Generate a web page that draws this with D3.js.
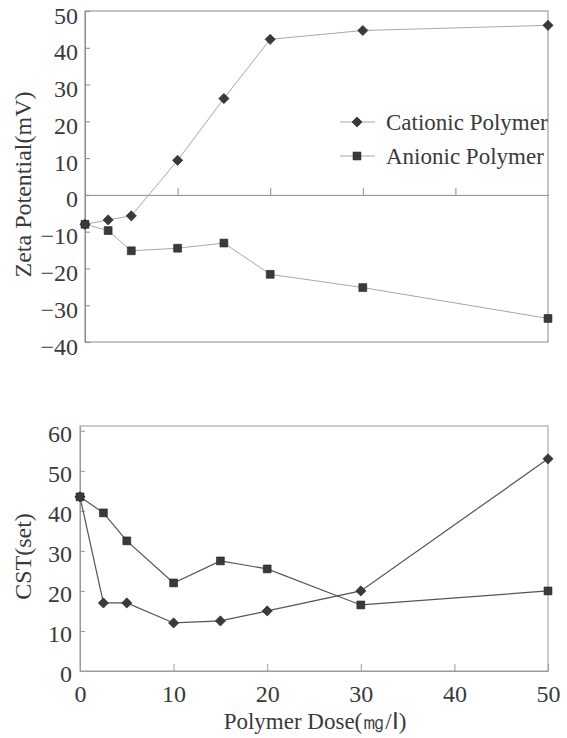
<!DOCTYPE html>
<html>
<head>
<meta charset="utf-8">
<script src="https://cdn.jsdelivr.net/npm/d3@7"></script>
<style>
  body { margin: 0; background: #fff; }
  svg { display: block; }
</style>
</head>
<body>
<div id="chart"></div>
<script>
// Polymer dose (mg/l) shared by both panels
const doses = [0, 2.5, 5, 10, 15, 20, 30, 50];

// Top panel: zeta potential (mV)
const zetaCationic = [-8, -6.8, -5.7, 9.4, 26.2, 42.3, 44.7, 46.1];
const zetaAnionic = [-8, -9.7, -15.2, -14.5, -13.1, -21.6, -25.2, -33.6];
const zetaTicks = [-40, -30, -20, -10, 0, 10, 20, 30, 40, 50];

// Bottom panel: CST (sec)
const cstCationic = [43.5, 17, 17, 12, 12.5, 15, 20, 53];
const cstAnionic = [43.5, 39.5, 32.5, 22, 27.5, 25.5, 16.5, 20];
const cstTicks = [0, 10, 20, 30, 40, 50, 60];
const doseTicks = [0, 10, 20, 30, 40, 50];

const seriesNames = ['Cationic Polymer', 'Anionic Polymer'];

const width = 567, height = 738;
const FONT = 'Liberation Serif';
const textColor = '#3a3a3a';
const markColor = '#3a3a3a';

const svg = d3.select('#chart').append('svg')
  .attr('width', width)
  .attr('height', height)
  .attr('font-family', FONT);

svg.append('rect')
  .attr('width', width)
  .attr('height', height)
  .attr('fill', '#fff');

// diamond = rotated square, square = plain square
const diamond = d3.symbol().type(d3.symbolSquare).size(52);
const square = d3.symbol().type(d3.symbolSquare).size(62);

function drawMarkers(g, x, y, values, kind) {
  g.selectAll(null)
    .data(values.map((v, i) => ({ dose: doses[i], v })))
    .enter()
    .append('path')
    .attr('d', kind === 'diamond' ? diamond : square)
    .attr('transform', d => `translate(${x(d.dose)},${y(d.v)})` + (kind === 'diamond' ? ' rotate(45)' : ''))
    .attr('fill', markColor)
    .attr('stroke', '#222')
    .attr('stroke-width', 0.6);
}

function drawLine(g, x, y, values, color, w) {
  const line = d3.line()
    .x((d, i) => x(doses[i]))
    .y(d => y(d));
  g.append('path')
    .datum(values)
    .attr('fill', 'none')
    .attr('stroke', color)
    .attr('stroke-width', w)
    .attr('d', line);
}

function styleAxis(ax, color) {
  ax.attr('font-family', FONT).attr('font-size', 24);
  ax.selectAll('path, line').attr('stroke', color).attr('stroke-width', 1);
  ax.selectAll('text').attr('fill', textColor);
}

/** ============== TOP: ZETA POTENTIAL ============== */
{
  const x = d3.scaleLinear().domain([0, 50]).range([85, 548]);
  const y = d3.scaleLinear().domain([-40, 50]).range([342, 11]);
  const g = svg.append('g');
  const frameColor = '#8a8a8a';

  // frame
  g.append('rect')
    .attr('x', x(0)).attr('y', y(50))
    .attr('width', x(50) - x(0)).attr('height', y(-40) - y(50))
    .attr('fill', 'none').attr('stroke', frameColor);

  // left axis, ticks pointing inwards
  const yAx = g.append('g')
    .attr('transform', `translate(${x(0)},0)`)
    .call(d3.axisLeft(y).tickValues(zetaTicks).tickSizeInner(-5).tickSizeOuter(0).tickPadding(7));
  yAx.selectAll('text').attr('dy', '0.5em');
  styleAxis(yAx, frameColor);

  // zero line with small ticks
  const xAx = g.append('g')
    .attr('transform', `translate(0,${y(0)})`)
    .call(d3.axisBottom(x).tickValues([10, 20, 30, 40]).tickSizeInner(-7).tickSizeOuter(0).tickFormat(''));
  styleAxis(xAx, frameColor);

  drawLine(g, x, y, zetaCationic, '#a8a8a8', 1);
  drawLine(g, x, y, zetaAnionic, '#a8a8a8', 1);
  drawMarkers(g, x, y, zetaCationic, 'diamond');
  drawMarkers(g, x, y, zetaAnionic, 'square');

  // y title
  g.append('text')
    .attr('transform', `translate(31,${(y(50) + y(-40)) / 2 + 8}) rotate(-90)`)
    .attr('text-anchor', 'middle')
    .attr('fill', textColor)
    .attr('font-size', 24)
    .text('Zeta Potential(mV)');

  // legend
  const legend = g.append('g');
  seriesNames.forEach((name, i) => {
    const ly = 122 + i * 34;
    legend.append('line')
      .attr('x1', 340).attr('x2', 375)
      .attr('y1', ly).attr('y2', ly)
      .attr('stroke', '#a8a8a8');
    legend.append('path')
      .attr('d', i === 0 ? diamond : square)
      .attr('transform', `translate(357,${ly})` + (i === 0 ? ' rotate(45)' : ''))
      .attr('fill', markColor)
      .attr('stroke', '#222')
      .attr('stroke-width', 0.6);
    legend.append('text')
      .attr('x', 386).attr('y', ly + 8)
      .attr('fill', textColor)
      .attr('font-size', 23)
      .text(name);
  });
}

/** ============== BOTTOM: CST ============== */
{
  const x = d3.scaleLinear().domain([0, 50]).range([80, 548]);
  const y = d3.scaleLinear().domain([0, 61.2]).range([671, 426]);
  const g = svg.append('g');
  const frameColor = '#9a9a9a';

  g.append('rect')
    .attr('x', x(0)).attr('y', y(61.2))
    .attr('width', x(50) - x(0)).attr('height', y(0) - y(61.2))
    .attr('fill', 'none').attr('stroke', frameColor);

  const yAx = g.append('g')
    .attr('transform', `translate(${x(0)},0)`)
    .call(d3.axisLeft(y).tickValues(cstTicks).tickSizeInner(-5).tickSizeOuter(0).tickPadding(8));
  yAx.selectAll('text').attr('dy', '0.45em');
  styleAxis(yAx, frameColor);

  const xAx = g.append('g')
    .attr('transform', `translate(0,${y(0)})`)
    .call(d3.axisBottom(x).tickValues(doseTicks).tickSizeInner(-7).tickSizeOuter(0).tickPadding(14));
  styleAxis(xAx, frameColor);

  drawLine(g, x, y, cstCationic, '#555', 1.2);
  drawLine(g, x, y, cstAnionic, '#555', 1.2);
  drawMarkers(g, x, y, cstCationic, 'diamond');
  drawMarkers(g, x, y, cstAnionic, 'square');

  g.append('text')
    .attr('transform', `translate(31,${(y(0) + y(61.2)) / 2 + 8}) rotate(-90)`)
    .attr('text-anchor', 'middle')
    .attr('fill', textColor)
    .attr('font-size', 24)
    .text('CST(set)');

  g.append('text')
    .attr('x', 315).attr('y', 729)
    .attr('text-anchor', 'middle')
    .attr('fill', textColor)
    .attr('font-size', 23)
    .text('Polymer Dose(㎎/Ⅰ)');
}
</script>
</body>
</html>
